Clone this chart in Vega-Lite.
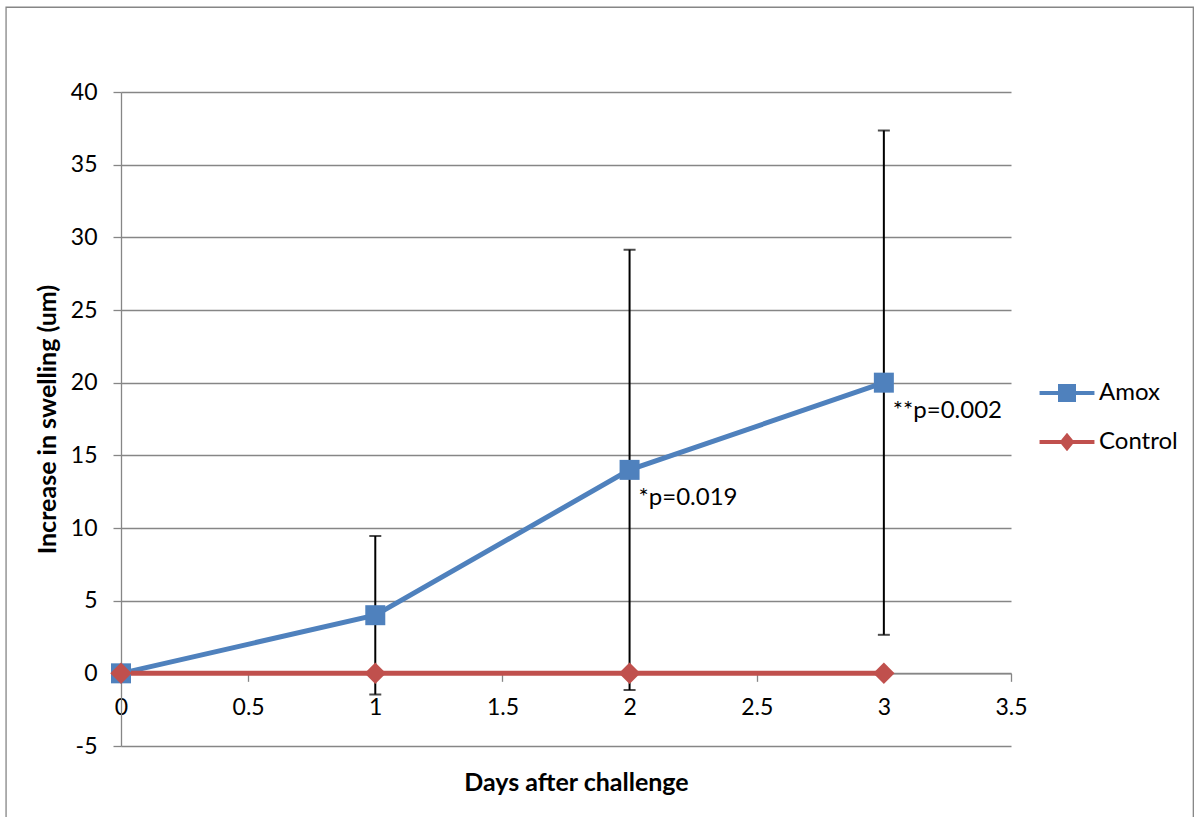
{
  "$schema": "https://vega.github.io/schema/vega-lite/v6.json",
  "width": 890,
  "height": 654,
  "autosize": {"type": "none"},
  "padding": {"left": 121, "top": 92, "right": 184, "bottom": 71},
  "background": "white",
  "config": {
    "view": {"stroke": null},
    "font": "Lato",
    "axis": {
      "labelFont": "Lato",
      "labelFontSize": 23,
      "labelColor": "#000000",
      "titleFont": "Lato",
      "titleFontSize": 25,
      "titleFontWeight": "bold",
      "titleColor": "#000000",
      "domainColor": "#868686",
      "domainWidth": 1.3,
      "tickColor": "#868686",
      "tickWidth": 1.3,
      "gridColor": "#868686",
      "gridWidth": 1.3,
      "gridOpacity": 1
    }
  },
  "datasets": {
    "series": [
      {"day": 0, "value": 0, "group": "Amox"},
      {"day": 1, "value": 4, "group": "Amox"},
      {"day": 2, "value": 14, "group": "Amox"},
      {"day": 3, "value": 20, "group": "Amox"},
      {"day": 0, "value": 0, "group": "Control"},
      {"day": 1, "value": 0, "group": "Control"},
      {"day": 2, "value": 0, "group": "Control"},
      {"day": 3, "value": 0, "group": "Control"}
    ],
    "errors": [
      {"day": 1, "lo": -1.45, "hi": 9.45},
      {"day": 2, "lo": -1.15, "hi": 29.15},
      {"day": 3, "lo": 2.65, "hi": 37.35}
    ],
    "notes": [
      {"day": 2, "value": 14, "label": "*p=0.019"},
      {"day": 3, "value": 20, "label": "**p=0.002"}
    ]
  },
  "encoding": {
    "x": {
      "type": "quantitative",
      "scale": {"domain": [0, 3.5], "nice": false, "zero": false},
      "axis": {
        "title": "Days after challenge",
        "values": [0, 0.5, 1, 1.5, 2, 2.5, 3, 3.5],
        "format": "~g",
        "grid": false,
        "offset": -72.67,
        "tickSize": 8,
        "labelPadding": 15,
        "labelFlush": false,
        "titleX": 455,
        "titleY": 109,
        "titleBaseline": "middle",
        "titleAlign": "center"
      }
    },
    "y": {
      "type": "quantitative",
      "scale": {"domain": [-5, 40], "nice": false, "zero": false},
      "axis": {
        "title": "Increase in swelling (um)",
        "values": [-5, 0, 5, 10, 15, 20, 25, 30, 35, 40],
        "labelExpr": "replace(datum.label, '\u2212', '-')",
        "grid": true,
        "tickSize": 8,
        "labelPadding": 16,
        "titleX": -74,
        "titleY": 327,
        "titleAngle": -90,
        "titleBaseline": "middle",
        "titleAlign": "center"
      }
    }
  },
  "layer": [
    {
      "data": {"values": [{}]},
      "mark": {"type": "rect", "filled": false, "fill": "transparent", "stroke": "#868686", "strokeWidth": 1.3, "clip": false},
      "encoding": {
        "x": {"datum": -0.452, "type": "quantitative"},
        "x2": {"datum": 4.217},
        "y": {"datum": 45.83, "type": "quantitative"},
        "y2": {"datum": -12}
      }
    },
    {
      "data": {"name": "errors"},
      "mark": {
        "type": "errorbar",
        "ticks": {"size": 12, "thickness": 2, "color": "#000000"},
        "rule": {"strokeWidth": 2, "color": "#000000"}
      },
      "encoding": {
        "x": {"field": "day", "type": "quantitative"},
        "y": {"field": "lo", "type": "quantitative"},
        "y2": {"field": "hi"}
      }
    },
    {
      "data": {"name": "series"},
      "mark": {"type": "line", "strokeWidth": 5},
      "encoding": {
        "x": {"field": "day", "type": "quantitative"},
        "y": {"field": "value", "type": "quantitative"},
        "color": {
          "field": "group",
          "type": "nominal",
          "scale": {"domain": ["Amox", "Control"], "range": ["#4F81BD", "#C0504D"]},
          "legend": {
            "title": null,
            "orient": "none",
            "legendX": 931,
            "legendY": 286,
            "padding": 0,
            "symbolSize": 900,
            "rowPadding": 22,
            "labelOffset": 17,
            "labelFont": "Lato",
            "labelFontSize": 24,
            "labelColor": "#000000",
            "labelLimit": 300,
            "encode": {
              "symbols": {
                "update": {
                  "shape": {"signal": "datum.value === 'Amox' ? 'M-1.83,-0.13H1.83V0.13H-1.83Z M-0.6,-0.6H0.6V0.6H-0.6Z' : 'M-1.83,-0.13H1.83V0.13H-1.83Z M0,-0.62L0.5,0L0,0.62L-0.5,0Z'"},
                  "fill": {"scale": "color", "field": "value"},
                  "stroke": {"value": "transparent"},
                  "strokeWidth": {"value": 0},
                  "opacity": {"value": 1}
                }
              }
            }
          }
        }
      }
    },
    {
      "data": {"name": "series"},
      "transform": [{"filter": "datum.group === 'Amox'"}],
      "mark": {"type": "square", "filled": true, "opacity": 1, "strokeWidth": 0, "size": 400},
      "encoding": {
        "x": {"field": "day", "type": "quantitative"},
        "y": {"field": "value", "type": "quantitative"},
        "color": {"field": "group", "type": "nominal"}
      }
    },
    {
      "data": {"name": "series"},
      "transform": [{"filter": "datum.group === 'Control'"}],
      "mark": {"type": "point", "shape": "diamond", "filled": true, "opacity": 1, "strokeWidth": 0, "size": 460},
      "encoding": {
        "x": {"field": "day", "type": "quantitative"},
        "y": {"field": "value", "type": "quantitative"},
        "color": {"field": "group", "type": "nominal"}
      }
    },
    {
      "data": {"name": "notes"},
      "mark": {"type": "text", "align": "left", "baseline": "middle", "dx": 9, "dy": 28, "font": "Lato", "fontSize": 24, "color": "#000000"},
      "encoding": {
        "x": {"field": "day", "type": "quantitative"},
        "y": {"field": "value", "type": "quantitative"},
        "text": {"field": "label"}
      }
    }
  ]
}
